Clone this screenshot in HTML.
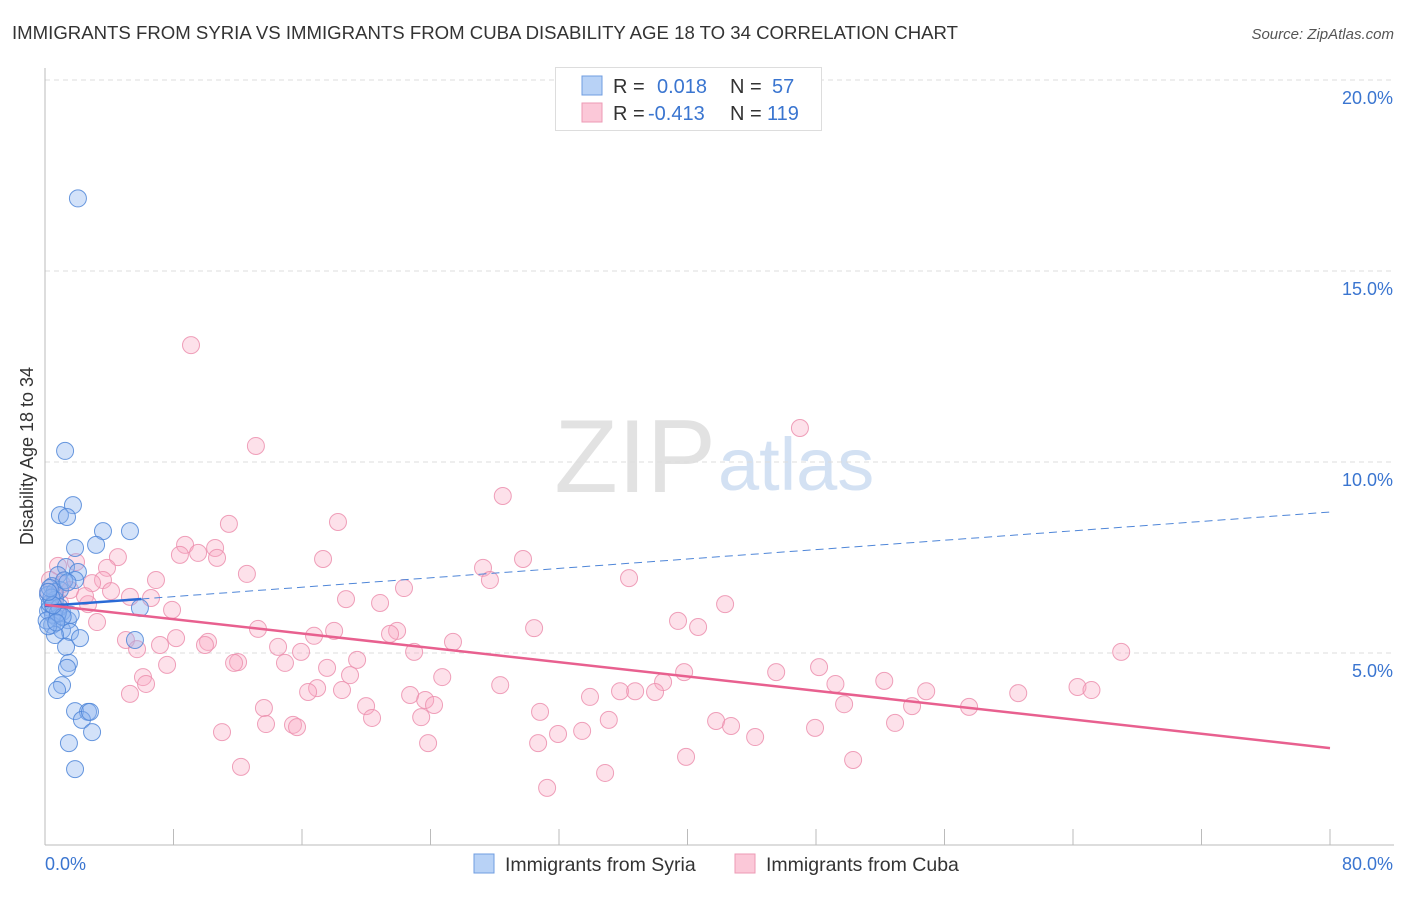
<!DOCTYPE html>
<html><head><meta charset="utf-8"><style>
body{margin:0;background:#fff;font-family:"Liberation Sans",sans-serif}
svg text{font-family:"Liberation Sans",sans-serif}
</style></head><body>
<svg id="c" width="1406" height="892"></svg>
<script>
const blueX=[2.05,1.25,1.74,0.93,1.37,3.61,5.29,1.87,3.18,1.31,2.05,1.87,0.81,0.44,0.93,0.19,0.62,0.31,1.06,5.91,0.75,1.43,0.44,1.06,1.56,0.62,2.18,5.6,1.31,1.49,1.37,1.06,0.75,1.87,2.68,2.3,2.8,2.93,1.49,1.87,0.19,0.5,0.1,0.3,0.6,1.2,0.9,0.2,1.6,0.4,0.8,1.1,0.3,0.7,1.4,0.5,0.2];
const blueY=[16.9,10.29,8.87,8.61,8.56,8.19,8.19,7.75,7.83,7.25,7.12,6.91,7.04,6.75,6.65,6.52,6.39,6.18,6.07,6.18,5.92,5.86,5.73,5.6,5.55,5.47,5.39,5.34,5.16,4.74,4.61,4.16,4.03,3.48,3.46,3.25,3.46,2.93,2.64,1.96,6.1,6.0,5.85,6.3,6.6,6.9,6.2,5.7,6.0,6.45,6.05,5.95,6.7,5.8,6.85,6.25,6.6];
const pinkX=[9.09,13.13,47.0,28.5,18.24,11.45,8.72,10.59,9.53,8.4,10.71,4.54,17.31,29.76,27.27,3.86,1.93,0.81,12.57,36.36,27.7,6.91,3.61,2.93,22.35,4.11,5.29,6.6,18.74,20.86,42.34,2.68,7.91,39.41,40.66,30.45,13.26,18.0,21.92,21.48,16.75,8.16,5.04,10.15,9.96,25.4,7.16,14.51,5.73,15.94,22.98,19.43,12.02,11.77,14.94,67.0,7.6,48.19,17.56,39.79,45.52,18.99,6.1,24.73,38.48,52.25,49.21,6.29,16.94,28.34,16.38,18.49,64.28,65.15,35.8,36.74,37.98,54.86,60.59,5.29,22.73,33.93,23.67,24.22,13.63,19.99,49.75,53.98,57.53,30.82,23.42,20.36,35.1,41.78,42.71,52.92,15.44,13.76,15.69,47.94,31.94,33.44,11.02,44.21,30.7,23.85,39.91,50.31,12.2,34.87,31.26,0.31,1.06,1.56,0.62,2.49,0.93,3.24,0.2];
const pinkY=[13.06,10.42,10.89,9.11,8.43,8.38,7.83,7.75,7.62,7.57,7.49,7.51,7.46,7.46,7.23,7.23,7.38,7.28,7.07,6.96,6.91,6.91,6.91,6.83,6.7,6.62,6.47,6.44,6.41,6.31,6.28,6.28,6.13,5.84,5.68,5.65,5.63,5.58,5.58,5.5,5.45,5.39,5.34,5.29,5.21,5.29,5.21,5.16,5.1,5.03,5.03,4.82,4.76,4.74,4.74,5.03,4.69,4.63,4.61,4.5,4.5,4.42,4.37,4.37,4.24,4.27,4.19,4.19,4.08,4.16,3.98,4.03,4.11,4.03,4.0,4.0,3.98,4.0,3.95,3.93,3.9,3.85,3.77,3.64,3.56,3.61,3.66,3.61,3.59,3.46,3.32,3.3,3.25,3.22,3.09,3.17,3.12,3.14,3.06,3.04,2.88,2.96,2.93,2.8,2.64,2.64,2.28,2.2,2.02,1.86,1.47,6.91,6.8,6.65,6.49,6.49,6.31,5.81,6.6];
const yTicks=[5,10,15,20];
const blueTrend=[6.23,8.69];
const pinkTrend=[6.26,2.51];
const NS="http://www.w3.org/2000/svg";
const svg=document.getElementById('c');
const X=v=>45+v/80*1285, Y=v=>844-v*38.2;
function el(t,a,txt){const e=document.createElementNS(NS,t);for(const k in a)e.setAttribute(k,a[k]);if(txt!=null)e.textContent=txt;svg.appendChild(e);return e;}
let t=el('text',{x:12,y:39,'font-size':18,fill:'#333',textLength:946,lengthAdjust:'spacingAndGlyphs'},'IMMIGRANTS FROM SYRIA VS IMMIGRANTS FROM CUBA DISABILITY AGE 18 TO 34 CORRELATION CHART');

t=el('text',{x:1394,y:39,'font-size':15,fill:'#555','text-anchor':'end','font-style':'italic'},'Source: ZipAtlas.com');

t=el('text',{x:716,y:492,'font-size':104,fill:'#e2e2e2','text-anchor':'end','font-family':'Liberation Serif'},'ZIP');

t=el('text',{x:718,y:490,'font-size':74,fill:'#d3e1f3'},'atlas');

yTicks.forEach(v=>{
 const g=el('line',{x1:45,x2:1394,y1:Y(v),y2:Y(v),stroke:'#ddd','stroke-dasharray':'5,4'});
 
 const l=el('text',{x:1393,y:Y(v)+24,'font-size':18,fill:'#3a75d0','text-anchor':'end'},v.toFixed(1)+'%');
 
});
let a=el('line',{x1:45,x2:45,y1:68,y2:845,stroke:'#bbb'});
a=el('line',{x1:45,x2:1394,y1:845,y2:845,stroke:'#bbb'});
for(let i=1;i<=10;i++){const tk=el('line',{x1:X(i*8),x2:X(i*8),y1:829,y2:845,stroke:'#bbb'});}
t=el('text',{x:45,y:870,'font-size':18,fill:'#3a75d0'},'0.0%');
t=el('text',{x:1393,y:870,'font-size':18,fill:'#3a75d0','text-anchor':'end'},'80.0%');
t=el('text',{x:0,y:0,'font-size':18,fill:'#333','text-anchor':'middle',transform:'translate(33,456) rotate(-90)'},'Disability Age 18 to 34');

pinkX.forEach((x,i)=>{const c=el('circle',{cx:X(x),cy:Y(pinkY[i]),r:8.5,fill:'rgba(248,170,195,0.35)',stroke:'rgba(236,143,174,0.85)','stroke-width':1});
 });
blueX.forEach((x,i)=>{const c=el('circle',{cx:X(x),cy:Y(blueY[i]),r:8.5,fill:'rgba(140,180,240,0.38)',stroke:'rgba(79,134,216,0.85)','stroke-width':1});
 });
const bAt=v=>blueTrend[0]+(blueTrend[1]-blueTrend[0])*v/80;
let ln=el('line',{x1:X(0),y1:Y(bAt(0)),x2:X(6),y2:Y(bAt(6)),stroke:'#2a6ad6','stroke-width':2.5});

ln=el('line',{x1:X(6),y1:Y(bAt(6)),x2:X(80),y2:Y(bAt(80)),stroke:'#4f86d8','stroke-width':1,'stroke-dasharray':'8,5'});

ln=el('line',{x1:X(0),y1:Y(pinkTrend[0]),x2:X(80),y2:Y(pinkTrend[1]),stroke:'#e8608f','stroke-width':2.5});

let r=el('rect',{x:555.5,y:67.5,width:266,height:63,fill:'#fff',stroke:'#ddd'});
r=el('rect',{x:582,y:76,width:20,height:19,fill:'#b8d2f6',stroke:'#6f9de0'});
r=el('rect',{x:582,y:103,width:20,height:19,fill:'#fbc8d8',stroke:'#ec9ab5'});
[['R = ',613,93,'#333'],['0.018',657,93,'#3a75d0'],['N = ',730,93,'#333'],['57',772,93,'#3a75d0'],
 ['R = ',613,120,'#333'],['-0.413',648,120,'#3a75d0'],['N = ',730,120,'#333'],['119',767,120,'#3a75d0']].forEach(d=>{
 const s=el('text',{x:d[1],y:d[2],'font-size':20,fill:d[3]},d[0]);});
r=el('rect',{x:474,y:854,width:20,height:19,fill:'#b8d2f6',stroke:'#6f9de0'});
t=el('text',{x:505,y:871,'font-size':19.5,fill:'#333'},'Immigrants from Syria');
r=el('rect',{x:735,y:854,width:20,height:19,fill:'#fbc8d8',stroke:'#ec9ab5'});
t=el('text',{x:766,y:871,'font-size':19.5,fill:'#333'},'Immigrants from Cuba');
</script>
</body></html>
